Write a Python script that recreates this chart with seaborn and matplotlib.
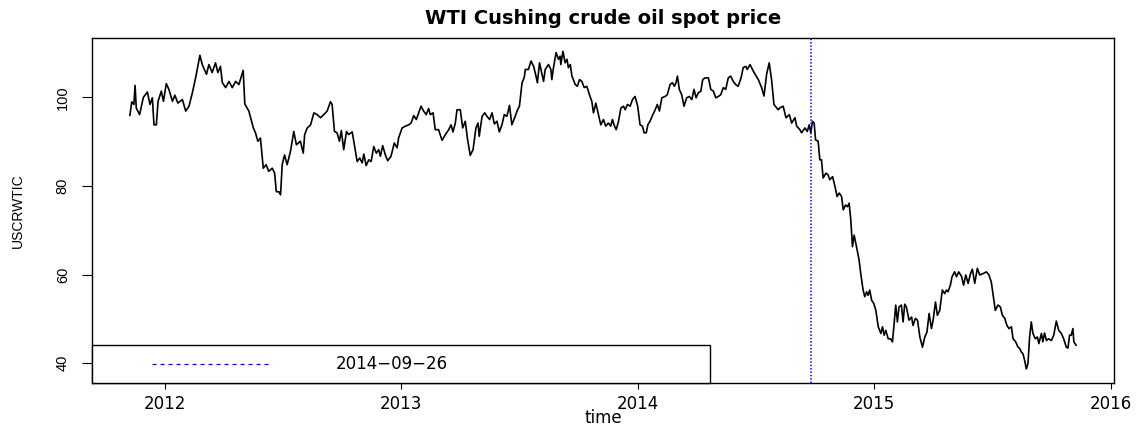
import pandas as pd
import seaborn as sns
import matplotlib
matplotlib.use("Agg")
import matplotlib.pyplot as plt
from matplotlib.lines import Line2D
from matplotlib.legend_handler import HandlerLine2D

# WTI spot price (decimal year, USD/bbl)
time = [
    2011.853, 2011.861, 2011.870, 2011.875, 2011.880, 2011.894, 2011.910, 2011.927, 2011.938, 2011.948,
    2011.955, 2011.965, 2011.972, 2011.986, 2011.995, 2012.007, 2012.018, 2012.033, 2012.043, 2012.056,
    2012.075, 2012.089, 2012.103, 2012.117, 2012.131, 2012.149, 2012.159, 2012.177, 2012.187, 2012.201,
    2012.215, 2012.225, 2012.236, 2012.244, 2012.258, 2012.272, 2012.286, 2012.300, 2012.314, 2012.332,
    2012.339, 2012.356, 2012.375, 2012.384, 2012.394, 2012.405, 2012.417, 2012.429, 2012.440, 2012.455,
    2012.465, 2012.472, 2012.483, 2012.490, 2012.497, 2012.507, 2012.518, 2012.532, 2012.546, 2012.557,
    2012.574, 2012.586, 2012.592, 2012.603, 2012.617, 2012.631, 2012.645, 2012.659, 2012.673, 2012.687,
    2012.701, 2012.708, 2012.718, 2012.729, 2012.739, 2012.747, 2012.757, 2012.769, 2012.778, 2012.793,
    2012.802, 2012.814, 2012.825, 2012.835, 2012.842, 2012.852, 2012.863, 2012.873, 2012.884, 2012.895,
    2012.905, 2012.912, 2012.922, 2012.933, 2012.943, 2012.957, 2012.971, 2012.983, 2012.989, 2013.004,
    2013.018, 2013.032, 2013.042, 2013.053, 2013.064, 2013.074, 2013.084, 2013.095, 2013.106, 2013.116,
    2013.123, 2013.135, 2013.144, 2013.158, 2013.173, 2013.187, 2013.201, 2013.211, 2013.219, 2013.229,
    2013.236, 2013.250, 2013.260, 2013.271, 2013.281, 2013.292, 2013.304, 2013.316, 2013.325, 2013.330,
    2013.342, 2013.353, 2013.363, 2013.374, 2013.384, 2013.394, 2013.405, 2013.415, 2013.426, 2013.436,
    2013.447, 2013.458, 2013.468, 2013.482, 2013.492, 2013.500, 2013.511, 2013.520, 2013.525, 2013.538,
    2013.549, 2013.560, 2013.570, 2013.576, 2013.585, 2013.602, 2013.609, 2013.623, 2013.633, 2013.637,
    2013.644, 2013.655, 2013.665, 2013.672, 2013.675, 2013.684, 2013.693, 2013.701, 2013.707, 2013.715,
    2013.722, 2013.736, 2013.745, 2013.754, 2013.764, 2013.774, 2013.785, 2013.796, 2013.806, 2013.813,
    2013.823, 2013.834, 2013.844, 2013.855, 2013.865, 2013.876, 2013.886, 2013.893, 2013.900, 2013.909,
    2013.919, 2013.929, 2013.940, 2013.947, 2013.957, 2013.968, 2013.978, 2013.989, 2014.000, 2014.010,
    2014.020, 2014.027, 2014.036, 2014.043, 2014.052, 2014.064, 2014.074, 2014.083, 2014.092, 2014.102,
    2014.116, 2014.125, 2014.137, 2014.147, 2014.155, 2014.162, 2014.168, 2014.176, 2014.186, 2014.196,
    2014.207, 2014.218, 2014.229, 2014.238, 2014.247, 2014.256, 2014.267, 2014.275, 2014.285, 2014.299,
    2014.309, 2014.320, 2014.330, 2014.341, 2014.351, 2014.362, 2014.372, 2014.383, 2014.393, 2014.404,
    2014.414, 2014.425, 2014.437, 2014.446, 2014.457, 2014.463, 2014.475, 2014.489, 2014.510, 2014.524,
    2014.534, 2014.545, 2014.556, 2014.566, 2014.576, 2014.594, 2014.601, 2014.615, 2014.627, 2014.641,
    2014.651, 2014.665, 2014.672, 2014.686, 2014.693, 2014.707, 2014.717, 2014.725, 2014.732, 2014.739,
    2014.746, 2014.752, 2014.763, 2014.770, 2014.777, 2014.784, 2014.796, 2014.805, 2014.812, 2014.824,
    2014.834, 2014.843, 2014.852, 2014.862, 2014.869, 2014.879, 2014.887, 2014.894, 2014.901, 2014.908,
    2014.915, 2014.925, 2014.936, 2014.943, 2014.953, 2014.960, 2014.968, 2014.974, 2014.981, 2014.989,
    2014.998, 2015.007, 2015.017, 2015.028, 2015.035, 2015.042, 2015.049, 2015.059, 2015.069, 2015.077,
    2015.083, 2015.091, 2015.098, 2015.105, 2015.115, 2015.122, 2015.129, 2015.136, 2015.147, 2015.158,
    2015.164, 2015.174, 2015.183, 2015.193, 2015.204, 2015.214, 2015.223, 2015.232, 2015.242, 2015.249,
    2015.259, 2015.267, 2015.277, 2015.288, 2015.298, 2015.305, 2015.312, 2015.322, 2015.329, 2015.340,
    2015.348, 2015.357, 2015.369, 2015.378, 2015.387, 2015.397, 2015.407, 2015.415, 2015.425, 2015.436,
    2015.446, 2015.460, 2015.474, 2015.485, 2015.495, 2015.502, 2015.512, 2015.523, 2015.533, 2015.542,
    2015.552, 2015.561, 2015.570, 2015.580, 2015.587, 2015.598, 2015.608, 2015.615, 2015.622, 2015.629,
    2015.636, 2015.643, 2015.650, 2015.657, 2015.664, 2015.671, 2015.681, 2015.690, 2015.696, 2015.707,
    2015.713, 2015.720, 2015.728, 2015.737, 2015.749, 2015.759, 2015.770, 2015.780, 2015.791, 2015.801,
    2015.812, 2015.819, 2015.826, 2015.833, 2015.840, 2015.844, 2015.854,
]
price = [
    95.9, 99.0, 98.4, 102.7, 97.6, 96.1, 100.0, 101.2, 98.4, 99.9,
    93.8, 93.8, 99.1, 101.4, 99.1, 103.1, 101.8, 99.1, 100.5, 98.7,
    99.5, 96.9, 98.0, 101.0, 104.4, 109.5, 107.4, 105.2, 107.4, 105.6,
    107.8, 105.6, 107.0, 103.3, 102.2, 103.6, 102.2, 103.6, 102.9, 106.1,
    98.5, 96.9, 93.1, 92.0, 90.1, 90.8, 84.0, 84.8, 83.3, 84.0,
    82.9, 78.7, 78.7, 78.0, 84.8, 87.0, 84.8, 87.8, 92.3, 89.3,
    90.1, 87.4, 91.6, 93.1, 93.8, 96.5, 96.1, 95.4, 96.1, 96.9,
    99.0, 98.4, 92.3, 92.0, 90.1, 92.5, 88.2, 92.3, 91.6, 92.2,
    89.3, 85.5, 86.3, 85.2, 87.2, 84.6, 85.9, 85.5, 88.9, 87.4,
    88.2, 86.7, 89.1, 87.0, 85.7, 86.7, 89.7, 88.6, 90.8, 93.1,
    93.5, 93.8, 94.2, 95.9, 95.0, 96.5, 98.0, 96.9, 96.1, 97.5,
    96.1, 96.5, 92.7, 92.7, 90.3, 91.6, 92.7, 93.8, 92.2, 94.2,
    97.2, 97.2, 93.1, 94.6, 90.4, 86.9, 88.2, 93.1, 94.2, 91.2,
    95.7, 96.5, 95.7, 95.0, 96.5, 94.0, 94.6, 92.2, 93.8, 96.1,
    95.7, 98.2, 93.8, 95.7, 97.2, 98.0, 103.3, 104.4, 106.3, 106.3,
    108.2, 107.0, 104.8, 103.3, 107.8, 103.6, 106.3, 107.4, 106.3, 104.0,
    106.7, 110.1, 108.6, 109.3, 107.4, 110.4, 107.8, 108.6, 106.7, 107.4,
    104.8, 102.9, 102.5, 104.0, 103.6, 102.2, 102.5, 100.6, 99.1, 96.5,
    98.7, 96.1, 93.8, 95.0, 93.5, 94.2, 93.5, 95.0, 93.8, 92.7,
    94.6, 97.6, 98.0, 97.2, 98.4, 98.0, 99.5, 100.2, 98.0, 93.8,
    93.5, 92.0, 92.0, 93.8, 94.6, 96.1, 97.2, 98.4, 96.9, 99.9,
    100.2, 100.6, 102.9, 103.3, 102.5, 103.3, 104.8, 101.8, 100.6, 98.0,
    99.9, 100.2, 99.5, 101.8, 99.9, 101.0, 101.4, 104.0, 104.4, 104.4,
    101.8, 101.4, 99.9, 100.2, 100.6, 102.2, 101.8, 104.4, 104.8, 103.6,
    102.9, 102.5, 104.4, 106.7, 107.0, 106.3, 107.4, 105.9, 104.0, 102.2,
    100.3, 105.2, 107.8, 104.0, 98.4, 97.2, 97.6, 98.0, 95.4, 96.1,
    94.2, 95.4, 93.5, 92.7, 92.0, 93.1, 92.3, 93.8, 92.0, 94.6,
    94.2, 90.4, 90.1, 85.9, 85.9, 81.8, 82.9, 82.5, 81.4, 82.1,
    79.9, 77.6, 78.4, 77.6, 74.6, 75.7, 75.3, 76.1, 72.3, 66.3,
    68.9, 66.3, 63.3, 60.2, 56.5, 55.0, 56.1, 55.3, 56.5, 54.2,
    53.5, 51.9, 48.2, 46.7, 48.2, 46.3, 47.4, 45.5, 45.5, 44.8,
    48.2, 53.1, 49.3, 52.7, 53.1, 49.3, 53.3, 52.7, 49.7, 50.4,
    48.5, 50.1, 49.7, 45.9, 43.6, 45.9, 47.0, 51.2, 47.8, 49.7,
    53.8, 50.8, 51.9, 56.5, 55.7, 56.5, 56.1, 57.6, 59.5, 60.6,
    59.5, 60.6, 59.6, 57.6, 59.9, 58.0, 60.2, 61.2, 58.0, 61.4,
    59.9, 60.2, 60.6, 59.9, 58.3, 55.7, 51.9, 53.1, 52.7, 50.8,
    50.1, 48.5, 47.8, 48.2, 45.5, 44.8, 43.6, 43.3, 42.5, 42.1,
    40.6, 38.7, 39.9, 45.9, 49.3, 46.7, 45.5, 45.9, 44.4, 46.7,
    44.8, 46.8, 45.1, 45.5, 45.1, 46.3, 49.5, 47.4, 46.7, 45.5,
    43.6, 43.4, 46.3, 46.3, 47.8, 44.8, 44.0,
]
assert len(time) == len(price)

event_date = "2014-09-26"
x_ticks = [2012, 2013, 2014, 2015, 2016]
y_ticks = [40, 60, 80, 100]

sns.set_style("white")
plt.rcParams["font.family"] = ["DejaVu Sans"]
plt.rcParams["text.color"] = "black"
plt.rcParams["axes.labelcolor"] = "black"
plt.rcParams["xtick.color"] = "black"
plt.rcParams["ytick.color"] = "black"

# break date as decimal year, like R's time()
d = pd.Timestamp(event_date)
event_t = d.year + (d.dayofyear - 1) / 365

df = pd.DataFrame({"time": time, "USCRWTIC": price})

fig = plt.figure(figsize=(11.39, 4.28), dpi=100)
ax = fig.add_axes([0.0808, 0.104, 0.8973, 0.8072])

sns.lineplot(data=df, x="time", y="USCRWTIC", color="black", linewidth=1.2,
             estimator=None, ax=ax)
ax.axvline(event_t, color="blue", linestyle=(0, (1, 1.2)), linewidth=1.1)

ax.set_xlim(2011.693, 2016.014)
ax.set_ylim(35.4, 113.4)
ax.set_xticks(x_ticks)
ax.set_xticklabels([str(t) for t in x_ticks])
ax.set_yticks(y_ticks)
ax.set_yticklabels([str(t) for t in y_ticks], rotation=90, va="center",
                   family="Liberation Sans", fontsize=10.5)

ax.tick_params(axis="x", length=4, width=0.8, pad=4, labelsize=12,
               color="black", bottom=True)
ax.tick_params(axis="y", length=7, width=0.8, pad=9, color="black", left=True)

for sp in ax.spines.values():
    sp.set_color("black")
    sp.set_linewidth(1.0)

ax.set_title("WTI Cushing crude oil spot price", fontsize=14,
             fontweight="bold", pad=10, color="black")
ax.set_xlabel("time", fontsize=12)
ax.xaxis.set_label_coords(0.5, -0.075)
ax.set_ylabel("USCRWTIC", family="Liberation Sans", fontsize=10)
ax.yaxis.set_label_coords(-0.066, 0.5)

# legend box in the lower left, like R's legend("bottomleft")
handle = Line2D([], [], color="blue", linestyle=(0, (3.2, 3.2)), linewidth=0.9)
leg = ax.legend([handle], [event_date.replace("-", "\u2212")],
                loc="lower left", bbox_to_anchor=(0, 0, 0.605, 1),
                mode="expand", borderaxespad=0, borderpad=0.6,
                handlelength=13.1, handletextpad=0.9, fontsize=12,
                fancybox=False, framealpha=1,
                handler_map={handle: HandlerLine2D(numpoints=2, marker_pad=3.0)})
leg.get_frame().set_edgecolor("black")
leg.get_frame().set_linewidth(1.0)

fig.savefig("out.png", dpi=100)
